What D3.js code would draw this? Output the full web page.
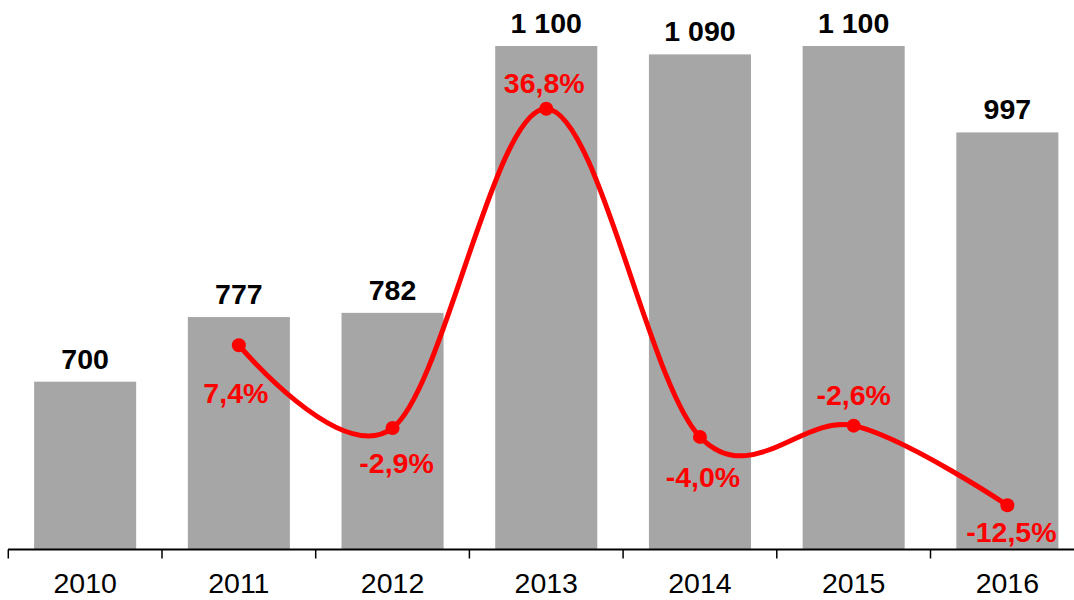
<!DOCTYPE html>
<html>
<head>
<meta charset="utf-8">
<script src="https://cdn.jsdelivr.net/npm/d3@7"></script>
<style>
  body { margin: 0; background: #fff; }
  svg { display: block; font-family: "Liberation Sans", Arial, sans-serif; }
</style>
</head>
<body>
<div id="chart"></div>
<script>
const years = ["2010", "2011", "2012", "2013", "2014", "2015", "2016"];
const volumes = [700, 777, 782, 1100, 1090, 1100, 997];
const growth = [null, 7.4, -2.9, 36.8, -4.0, -2.6, -12.5];

const width = 1074;
const height = 600;
const baseY = 549.5;

const svg = d3.select("#chart").append("svg")
  .attr("width", width)
  .attr("height", height);

const step = 153.7;
const x = d3.scaleBand()
  .domain(years)
  .range([8.3, 8.3 + step * years.length])
  .paddingInner(0.336)
  .paddingOuter(0.168);

const y = d3.scaleLinear().domain([500, 1100]).range([baseY, 46]);
const y2 = d3.scaleLinear().domain([-18, 44.6]).range([baseY, 46]);

const fmtInt = (v) => d3.format(",")(v).replace(/,/g, " ");
const fmtPct = (v) => v.toFixed(1).replace(".", ",") + "%";

const rows = years.map((yr, i) => ({ year: yr, value: volumes[i], growth: growth[i] }));

// bars
svg.append("g").selectAll("rect")
  .data(rows)
  .join("rect")
  .attr("x", (d) => x(d.year))
  .attr("y", (d) => y(d.value))
  .attr("width", x.bandwidth())
  .attr("height", (d) => baseY - y(d.value))
  .attr("fill", "#a6a6a6");

// bar value labels
svg.append("g").selectAll("text")
  .data(rows)
  .join("text")
  .attr("x", (d) => x(d.year) + x.bandwidth() / 2)
  .attr("y", (d) => y(d.value) - 13)
  .attr("text-anchor", "middle")
  .style("font-weight", "bold")
  .style("font-size", "28.5px")
  .style("fill", "#000")
  .text((d) => fmtInt(d.value));

// x axis
const axis = svg.append("g");
axis.append("line")
  .attr("x1", 8).attr("x2", width)
  .attr("y1", baseY).attr("y2", baseY)
  .attr("stroke", "#000").attr("stroke-width", 2);
axis.selectAll(".tick")
  .data(years)
  .join("line")
  .attr("class", "tick")
  .attr("x1", (d) => x(d) - x.step() * 0.168)
  .attr("x2", (d) => x(d) - x.step() * 0.168)
  .attr("y1", baseY).attr("y2", baseY + 9)
  .attr("stroke", "#000").attr("stroke-width", 1.5);
axis.selectAll(".lbl")
  .data(years)
  .join("text")
  .attr("class", "lbl")
  .attr("x", (d) => x(d) + x.bandwidth() / 2)
  .attr("y", 593)
  .attr("text-anchor", "middle")
  .style("font-size", "28.5px")
  .style("fill", "#000")
  .text((d) => d);

// growth line
const pts = rows.filter((d) => d.growth !== null);
const line = d3.line()
  .x((d) => x(d.year) + x.bandwidth() / 2)
  .y((d) => y2(d.growth))
  .curve(d3.curveCardinal.tension(0));

svg.append("path")
  .datum(pts)
  .attr("d", line)
  .attr("fill", "none")
  .attr("stroke", "#ff0000")
  .attr("stroke-width", 5);

svg.append("g").selectAll("circle")
  .data(pts)
  .join("circle")
  .attr("cx", (d) => x(d.year) + x.bandwidth() / 2)
  .attr("cy", (d) => y2(d.growth))
  .attr("r", 7)
  .attr("fill", "#ff0000");

// label placement around each point (dx, dy to baseline)
const place = {
  "2011": [-3, 58],
  "2012": [4, 45],
  "2013": [-2, -16],
  "2014": [3, 50],
  "2015": [0, -21],
  "2016": [4, 37]
};

svg.append("g").selectAll("text")
  .data(pts)
  .join("text")
  .attr("x", (d) => x(d.year) + x.bandwidth() / 2 + place[d.year][0])
  .attr("y", (d) => y2(d.growth) + place[d.year][1])
  .attr("text-anchor", "middle")
  .style("font-weight", "bold")
  .style("font-size", "28.5px")
  .style("fill", "#ff0000")
  .text((d) => fmtPct(d.growth));
</script>
</body>
</html>
